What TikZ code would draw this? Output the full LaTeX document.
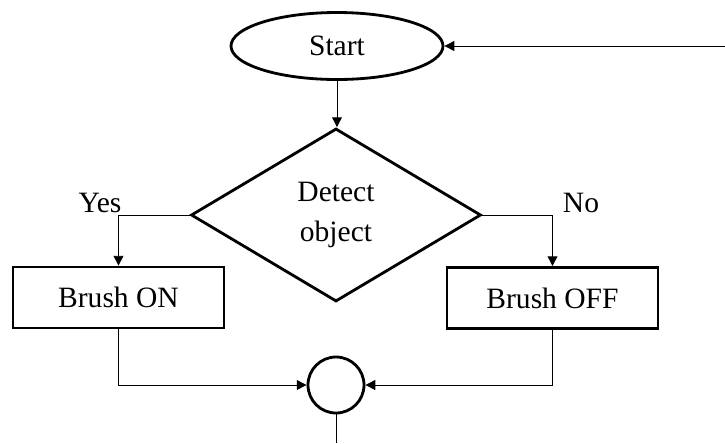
\documentclass[tikz,border=0pt]{standalone}
\usepackage{fontspec}
\setmainfont{Liberation Serif}
\usepackage{tikz}
\usetikzlibrary{arrows.meta,shapes.geometric}

\tikzset{
  flow/.style={draw,line width=2pt,inner sep=0pt,font=\fontsize{21}{28}\selectfont},
  startbox/.style={flow,ellipse,minimum width=5.3cm,minimum height=1.675cm},
  decidebox/.style={flow,diamond,align=center,minimum width=7.25cm,minimum height=4.325cm},
  actbox/.style={flow,rectangle,minimum width=5.275cm,minimum height=1.525cm},
  joinbox/.style={flow,circle,minimum size=1.4cm},
  link/.style={line width=0.7pt,-{Triangle[length=7pt,width=7pt]}},
  lbl/.style={font=\fontsize{21}{28}\selectfont}
}

\begin{document}
\begin{tikzpicture}
\useasboundingbox (0,0) rectangle (18.125,-11.075);
% nodes
\node[startbox] (start) at (8.425,-1.15) {Start};
\node[decidebox] (detect) at (8.4,-5.375) {Detect\\object};
\node[actbox] (on) at (2.9625,-7.4375) {Brush ON};
\node[actbox] (off) at (13.8125,-7.45) {Brush OFF};
\node[joinbox] (join) at (8.4,-9.625) {};
\coordinate (back) at (18.125,-1.15);
\coordinate (exit) at (8.4,-11.075);
% connectors
\draw[link] (back) -- (start);
\draw[link] (start) -- (start|-detect.north);
\draw[link] (detect.west) -| (on);
\draw[link] (detect.east) -| (off);
\draw[link] (on) |- (join);
\draw[link] (off) |- (join);
\draw[line width=0.7pt] (join) -- (exit);
% branch labels
\node[lbl] (yes) at (2.5,-5.07) {Yes};
\node[lbl] (no) at (14.525,-5.07) {No};
\end{tikzpicture}
\end{document}
